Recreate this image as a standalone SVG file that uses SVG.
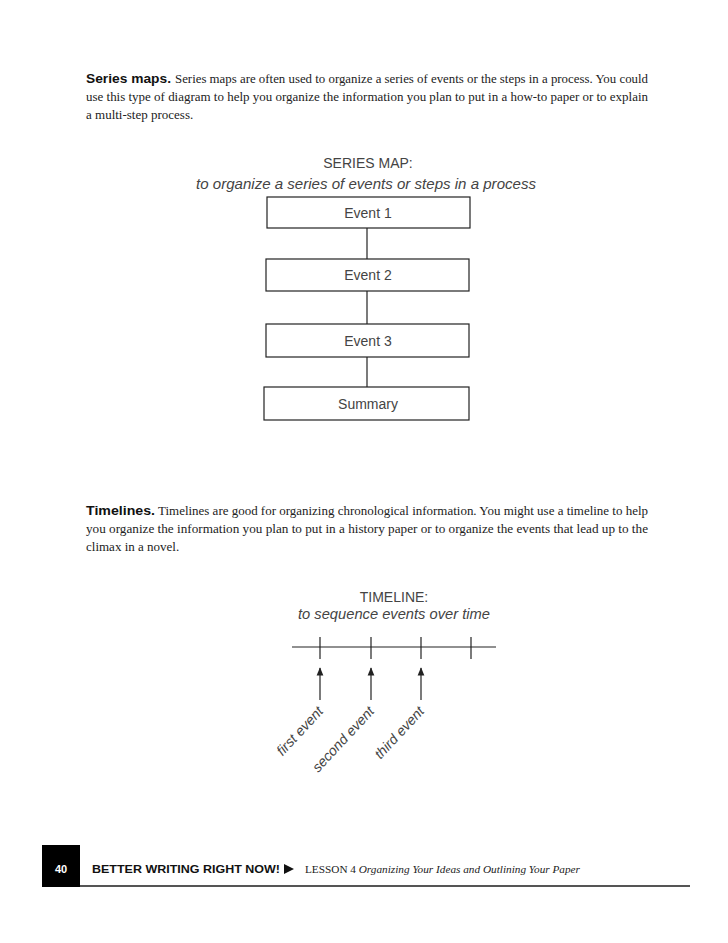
<svg xmlns="http://www.w3.org/2000/svg" width="728" height="943" viewBox="0 0 728 943">
<style>
.body{font-family:"Liberation Serif",serif;font-size:13px;fill:#222}
.lead{font-family:"Liberation Sans",Arial,sans-serif;font-weight:bold;font-size:13.5px;fill:#111}
.hand{font-family:"Liberation Sans",Arial,sans-serif;font-size:14px;fill:#444}
.handi{font-family:"Liberation Sans",Arial,sans-serif;font-size:14px;font-style:italic;fill:#444}
.box{fill:#fff;stroke:#222;stroke-width:1.2}
.conn{stroke:#222;stroke-width:1.2;fill:none}
</style>
<defs>
<marker id="ah" viewBox="0 0 10 10" refX="9" refY="5" markerWidth="7" markerHeight="7" orient="auto"><path d="M0,1 L10,5 L0,9 Z" fill="#222"/></marker>
</defs>
<rect width="728" height="943" fill="#fff"/>

<g id="para1">
<text class="body" x="86" y="83"><tspan class="lead" textLength="85" lengthAdjust="spacingAndGlyphs">Series maps.</tspan> <tspan x="175" textLength="473" lengthAdjust="spacingAndGlyphs">Series maps are often used to organize a series of events or the steps in a process. You could</tspan></text>
<text class="body" x="86" y="101" textLength="562" lengthAdjust="spacingAndGlyphs">use this type of diagram to help you organize the information you plan to put in a how-to paper or to explain</text>
<text class="body" x="86" y="119">a multi-step process.</text>
</g>

<g id="series-title">
<text class="hand" x="368" y="168" text-anchor="middle">SERIES MAP:</text>
<text class="handi" x="366" y="189" text-anchor="middle" textLength="340" lengthAdjust="spacingAndGlyphs">to organize a series of events or steps in a process</text>
</g>

<g id="connectors">
<line class="conn" x1="367" y1="228" x2="367" y2="259"/>
<line class="conn" x1="367" y1="291" x2="367" y2="324"/>
<line class="conn" x1="367" y1="357" x2="367" y2="387"/>
<line class="conn" x1="292" y1="647" x2="496" y2="647"/>
<line class="conn" x1="320" y1="637" x2="320" y2="659"/>
<line class="conn" x1="371" y1="637" x2="371" y2="659"/>
<line class="conn" x1="421" y1="637" x2="421" y2="659"/>
<line class="conn" x1="471" y1="637" x2="471" y2="659"/>
<line class="conn" x1="320" y1="700" x2="320" y2="668" marker-end="url(#ah)"/>
<line class="conn" x1="371" y1="700" x2="371" y2="668" marker-end="url(#ah)"/>
<line class="conn" x1="421" y1="700" x2="421" y2="668" marker-end="url(#ah)"/>
</g>

<g id="event1"><rect class="box" x="267" y="197" width="203" height="31"/><text class="hand" x="368" y="218" text-anchor="middle">Event 1</text></g>
<g id="event2"><rect class="box" x="266" y="259" width="203" height="32"/><text class="hand" x="368" y="280" text-anchor="middle">Event 2</text></g>
<g id="event3"><rect class="box" x="266" y="324" width="203" height="33"/><text class="hand" x="368" y="346" text-anchor="middle">Event 3</text></g>
<g id="summary"><rect class="box" x="264" y="387" width="205" height="33"/><text class="hand" x="368" y="409" text-anchor="middle">Summary</text></g>

<g id="para2">
<text class="body" x="86" y="515"><tspan class="lead" textLength="69" lengthAdjust="spacingAndGlyphs">Timelines.</tspan> <tspan x="158" textLength="490" lengthAdjust="spacingAndGlyphs">Timelines are good for organizing chronological information. You might use a timeline to help</tspan></text>
<text class="body" x="86" y="533" textLength="562" lengthAdjust="spacingAndGlyphs">you organize the information you plan to put in a history paper or to organize the events that lead up to the</text>
<text class="body" x="86" y="551">climax in a novel.</text>
</g>

<g id="timeline-title">
<text class="hand" x="394" y="602" text-anchor="middle">TIMELINE:</text>
<text class="handi" x="394" y="619" text-anchor="middle" textLength="192" lengthAdjust="spacingAndGlyphs">to sequence events over time</text>
</g>

<g id="label-first"><text class="handi" x="324" y="712" text-anchor="end" transform="rotate(-47 324 712)" font-size="15">first event</text></g>
<g id="label-second"><text class="handi" x="375" y="712" text-anchor="end" transform="rotate(-47 375 712)" font-size="15">second event</text></g>
<g id="label-third"><text class="handi" x="425" y="712" text-anchor="end" transform="rotate(-47 425 712)" font-size="15">third event</text></g>

<g id="footer">
<rect x="42" y="845" width="38" height="42" fill="#000"/>
<text x="61" y="873" text-anchor="middle" font-family="Liberation Sans, Arial, sans-serif" font-weight="bold" font-size="11" fill="#fff">40</text>
<line x1="80" y1="886" x2="690" y2="886" stroke="#555" stroke-width="2"/>
<text x="92" y="873" font-family="Liberation Sans, Arial, sans-serif" font-weight="bold" font-size="11.5" fill="#111" textLength="188" lengthAdjust="spacingAndGlyphs">BETTER WRITING RIGHT NOW!</text>
<path d="M284,864 L294,869 L284,874 Z" fill="#111"/>
<text x="305" y="873" font-family="Liberation Serif, serif" font-size="11" fill="#222" textLength="275" lengthAdjust="spacingAndGlyphs">LESSON 4 <tspan font-style="italic">Organizing Your Ideas and Outlining Your Paper</tspan></text>
</g>
</svg>
